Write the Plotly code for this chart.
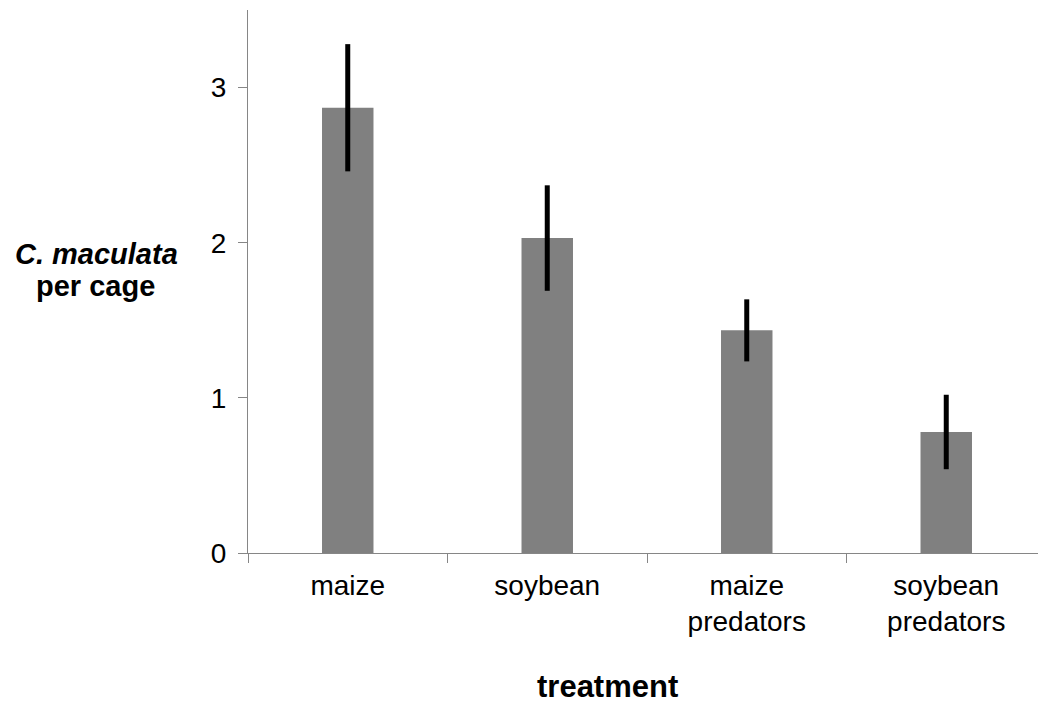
import plotly.graph_objects as go

categories = ["maize", "soybean", "maize<br>predators", "soybean<br>predators"]
means = [2.87, 2.03, 1.435, 0.78]
errors = [0.41, 0.34, 0.20, 0.24]
y_ticks = [0, 1, 2, 3]
y_tick_labels = ["0", "1", "2", "3"]

FONT = "Liberation Sans, Arial, sans-serif"
AXIS_GRAY = "#868686"

# page body has an 8px margin, so the figure is sized to fit the window
FIG_W, FIG_H = 1038, 698
M_L, M_R, M_T, M_B = 240, 0, 2, 153

fig = go.Figure(
    go.Bar(
        x=categories,
        y=means,
        marker=dict(color="#808080", line=dict(width=0)),
        error_y=dict(type="data", array=errors, visible=True,
                     color="black", thickness=5, width=0),
    )
)

fig.update_layout(
    width=FIG_W, height=FIG_H,
    margin=dict(l=M_L, r=M_R, t=M_T, b=M_B, autoexpand=False),
    paper_bgcolor="white", plot_bgcolor="white",
    bargap=0.742,
    showlegend=False,
    font=dict(family=FONT, size=28, color="black"),
)

fig.update_xaxes(
    type="category", automargin=False,
    showline=True, linecolor=AXIS_GRAY, linewidth=1,
    ticks="outside", tickson="boundaries", ticklen=9,
    tickcolor=AXIS_GRAY, tickwidth=1,
    showgrid=False, zeroline=False,
    tickfont=dict(family=FONT, size=28, color="black"),
    ticklabelstandoff=7,
)

fig.update_yaxes(
    range=[0, 3.5], automargin=False,
    tickvals=y_ticks, ticktext=y_tick_labels,
    showline=True, linecolor=AXIS_GRAY, linewidth=1,
    ticks="outside", ticklen=9, tickcolor=AXIS_GRAY, tickwidth=1,
    showgrid=False, zeroline=False,
    tickfont=dict(family=FONT, size=28, color="black"),
    ticklabelstandoff=6,
)

PLOT_W = FIG_W - M_L - M_R
PLOT_H = FIG_H - M_T - M_B
OFF = 8  # page offset
PLOT_LEFT = OFF + M_L
PLOT_BOTTOM = OFF + FIG_H - M_B

def px_x(px):
    return (px - PLOT_LEFT) / PLOT_W

def px_y(py):
    return (PLOT_BOTTOM - py) / PLOT_H

fig.add_annotation(
    text="<b><i>C. maculata</i></b>", xref="paper", yref="paper",
    x=px_x(96), y=px_y(254), xanchor="center", yanchor="middle",
    showarrow=False, font=dict(family=FONT, size=29, color="black"),
)
fig.add_annotation(
    text="<b>per cage</b>", xref="paper", yref="paper",
    x=px_x(95), y=px_y(286), xanchor="center", yanchor="middle",
    showarrow=False, font=dict(family=FONT, size=29, color="black"),
)
fig.add_annotation(
    text="<b>treatment</b>", xref="paper", yref="paper",
    x=px_x(607.5), y=px_y(686), xanchor="center", yanchor="middle",
    showarrow=False, font=dict(family=FONT, size=31, color="black"),
)

fig.write_html("out.html")
